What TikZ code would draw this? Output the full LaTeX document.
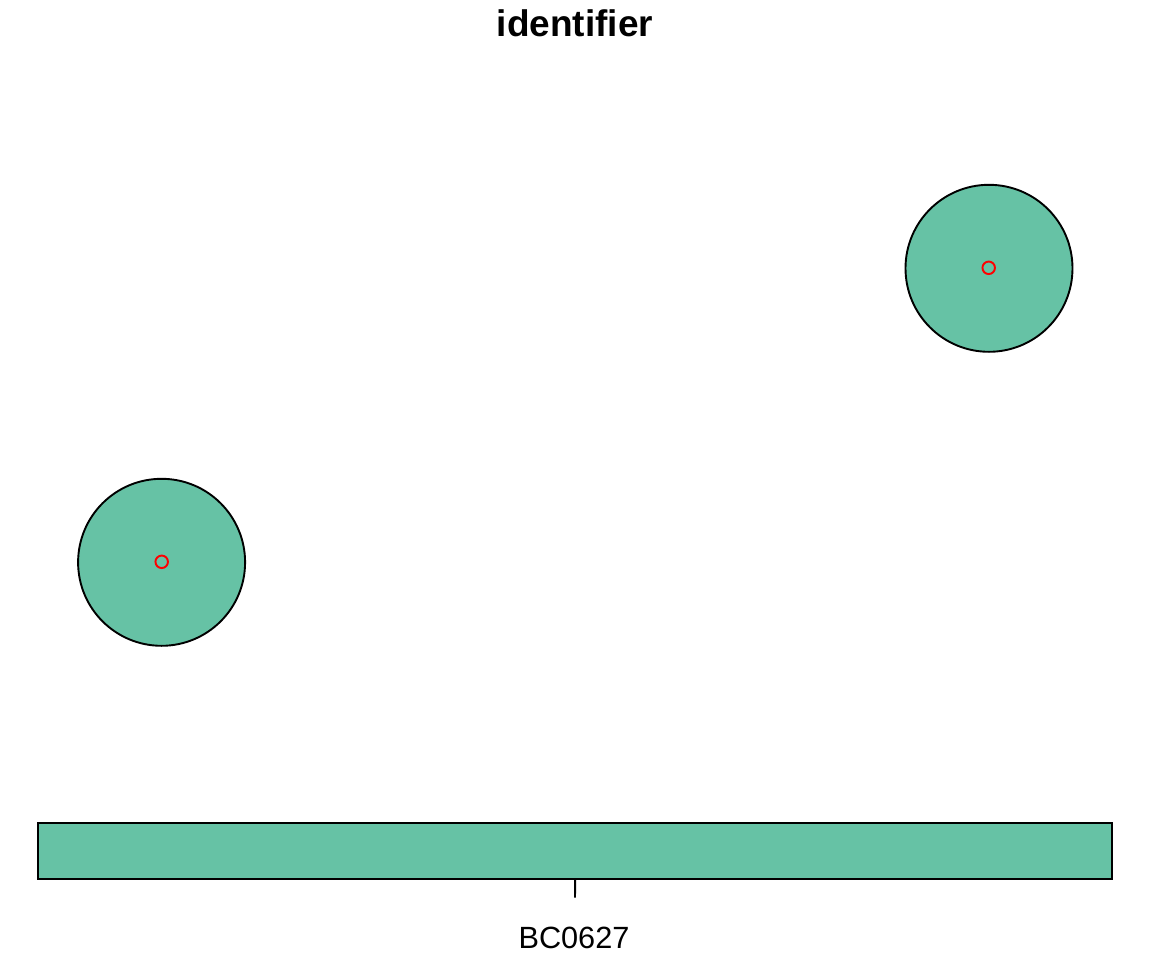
\documentclass[tikz,border=0pt]{standalone}
\usepackage{fontspec}
\setmainfont{Liberation Sans}
\definecolor{setgreen}{HTML}{66C2A5}
\begin{document}
\begin{tikzpicture}[x=1bp,y=-1bp,
  bubble/.style={circle,draw=black,fill=setgreen,line width=1.9bp,minimum size=167bp,inner sep=0pt},
  centermark/.style={circle,draw=red,line width=1.9bp,minimum size=12.5bp,inner sep=0pt},
  bar/.style={rectangle,draw=black,fill=setgreen,line width=2bp,inner sep=0pt,minimum width=1074bp,minimum height=55.5bp},
  axlabel/.style={font=\fontsize{30.7bp}{36bp}\selectfont,anchor=base},
  titlestyle/.style={font=\fontsize{37bp}{42bp}\selectfont\bfseries,anchor=base}]
\useasboundingbox[fill=white] (0,0) rectangle (1152,960);
\node[titlestyle] (title) at (575,36) {identifier};
\node[bubble] (b1) at (989,268.3) {};
\node[centermark] (m1) at (988.7,267.8) {};
\node[bubble] (b2) at (161.6,562.3) {};
\node[centermark] (m2) at (161.7,561.8) {};
\node[bar] (bar) at (575.2,850.9) {};
\coordinate (tickend) at (575,897.5);
\draw[line width=1.9bp] (bar.south) -- (tickend);
\node[axlabel] (lab) at (574,948) {BC0627};
\end{tikzpicture}
\end{document}
